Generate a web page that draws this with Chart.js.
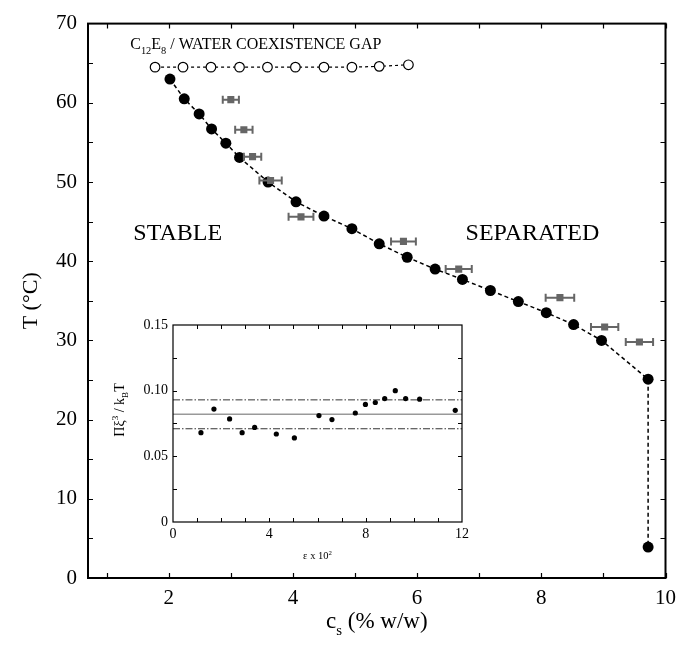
<!DOCTYPE html>
<html>
<head>
<meta charset="UTF-8">
<title>C12E8 / water coexistence gap</title>
<script src="https://cdn.jsdelivr.net/npm/chart.js"></script>
<style>
  body { margin: 0; background: #fff; }
  #wrap { position: relative; width: 684px; height: 655px; }
  #main { position: absolute; left: 0; top: 0; }
  #inset { position: absolute; left: 100px; top: 310px; }
</style>
</head>
<body>
<div id="wrap">
  <canvas id="main" width="684" height="655"></canvas>
  <canvas id="inset" width="380" height="260"></canvas>
</div>
<script>
// cloud point curve (filled circles), c_s in % w/w, T in deg C
const cloudC = [2.02, 2.25, 2.49, 2.69, 2.92, 3.14, 3.60, 4.05, 4.50, 4.95, 5.39, 5.84, 6.29, 6.73, 7.18, 7.63, 8.08, 8.52, 8.97, 9.72, 9.72];
const cloudT = [63.0, 60.5, 58.6, 56.7, 54.9, 53.1, 50.0, 47.5, 45.7, 44.1, 42.2, 40.5, 39.0, 37.7, 36.3, 34.9, 33.5, 32.0, 30.0, 25.1, 3.9];

// coexistence gap (open circles)
const gapC = [1.78, 2.23, 2.68, 3.14, 3.59, 4.04, 4.50, 4.95, 5.39, 5.86];
const gapT = [64.5, 64.5, 64.5, 64.5, 64.5, 64.5, 64.5, 64.5, 64.6, 64.8];

// grey squares with horizontal error bars
const sqC = [3.00, 3.21, 3.35, 3.64, 4.13, 5.78, 6.67, 8.30, 9.02, 9.58];
const sqT = [60.4, 56.6, 53.2, 50.2, 45.6, 42.5, 39.0, 35.4, 31.7, 29.8];
const sqErr = [0.13, 0.14, 0.14, 0.18, 0.20, 0.20, 0.21, 0.23, 0.22, 0.22];

const xTickVals = [2, 4, 6, 8, 10];
const yTickVals = [0, 10, 20, 30, 40, 50, 60, 70];

// inset: Pi xi^3 / kBT versus epsilon x 10^2
const epsX = [1.16, 1.70, 2.35, 2.87, 3.39, 4.29, 5.04, 6.06, 6.60, 7.57, 7.99, 8.40, 8.79, 9.23, 9.66, 10.24, 11.72];
const piVal = [0.068, 0.086, 0.0785, 0.068, 0.072, 0.067, 0.064, 0.081, 0.078, 0.083, 0.0895, 0.091, 0.094, 0.100, 0.094, 0.0935, 0.085];
const meanVal = 0.082;
const bandLow = 0.071;
const bandHigh = 0.093;
const insetXTicks = [0, 4, 8, 12];
const insetYTicks = [0, 0.05, 0.10, 0.15];

const serif = '"Liberation Serif", "DejaVu Serif", serif';
const pts = (xs, ys) => xs.map((v, i) => ({ x: v, y: ys[i] }));

// box round the plot area plus inward tick marks on all four sides
const frameTicks = {
  id: 'frameTicks',
  afterDatasetsDraw(chart, args, opts) {
    const { ctx, chartArea: a, scales: { x, y } } = chart;
    ctx.save();
    ctx.strokeStyle = '#000';
    ctx.lineWidth = opts.width;
    ctx.strokeRect(a.left, a.top, a.right - a.left, a.bottom - a.top);
    ctx.lineWidth = opts.tickWidth;
    ctx.beginPath();
    for (let v = opts.xFrom; v <= opts.xTo + 1e-9; v += opts.xStep) {
      const px = Math.round(x.getPixelForValue(v)) + 0.5;
      ctx.moveTo(px, a.bottom); ctx.lineTo(px, a.bottom - opts.len);
      ctx.moveTo(px, a.top); ctx.lineTo(px, a.top + opts.len);
    }
    for (let v = opts.yFrom; v <= opts.yTo + 1e-9; v += opts.yStep) {
      const py = Math.round(y.getPixelForValue(v)) + 0.5;
      ctx.moveTo(a.left, py); ctx.lineTo(a.left + opts.len, py);
      ctx.moveTo(a.right, py); ctx.lineTo(a.right - opts.len, py);
    }
    ctx.stroke();
    ctx.restore();
  }
};

const errorBars = {
  id: 'errorBars',
  afterDatasetsDraw(chart) {
    const { ctx, scales: { x, y } } = chart;
    ctx.save();
    ctx.strokeStyle = '#666';
    ctx.lineWidth = 2;
    ctx.beginPath();
    sqC.forEach((c, i) => {
      const x0 = x.getPixelForValue(c - sqErr[i]);
      const x1 = x.getPixelForValue(c + sqErr[i]);
      const py = y.getPixelForValue(sqT[i]);
      ctx.moveTo(x0, py); ctx.lineTo(x1, py);
      ctx.moveTo(x0, py - 4); ctx.lineTo(x0, py + 4);
      ctx.moveTo(x1, py - 4); ctx.lineTo(x1, py + 4);
    });
    ctx.stroke();
    ctx.restore();
  }
};

// draw a run of text pieces, each {t, s (scale), dy (shift)}
function drawRuns(ctx, runs, x, y, size) {
  let cx = x;
  runs.forEach(r => {
    const f = size * (r.s || 1);
    ctx.font = f + 'px ' + serif;
    ctx.fillText(r.t, cx, y + (r.dy || 0) * size);
    cx += ctx.measureText(r.t).width;
  });
}
function runsWidth(ctx, runs, size) {
  let w = 0;
  runs.forEach(r => {
    ctx.font = size * (r.s || 1) + 'px ' + serif;
    w += ctx.measureText(r.t).width;
  });
  return w;
}

const mainText = {
  id: 'mainText',
  afterDraw(chart) {
    const { ctx, chartArea: a, scales: { x, y } } = chart;
    ctx.save();
    ctx.fillStyle = '#000';
    ctx.textBaseline = 'alphabetic';
    ctx.textAlign = 'left';

    // y title
    ctx.save();
    ctx.translate(37, (a.top + a.bottom) / 2);
    ctx.rotate(-Math.PI / 2);
    ctx.font = '22px ' + serif;
    ctx.textAlign = 'center';
    ctx.fillText('T (°C)', 0, 0);
    ctx.restore();

    // x title with subscript
    const xr = [{ t: 'c' }, { t: 's', s: 0.65, dy: 0.3 }, { t: ' (% w/w)' }];
    const w = runsWidth(ctx, xr, 23);
    drawRuns(ctx, xr, (a.left + a.right) / 2 - w / 2, 628, 23);

    // region labels
    ctx.font = '24px ' + serif;
    ctx.fillText('STABLE', x.getPixelForValue(1.43), y.getPixelForValue(42.7));
    ctx.fillText('SEPARATED', x.getPixelForValue(6.78), y.getPixelForValue(42.7));

    // gap label
    drawRuns(ctx, [
      { t: 'C' }, { t: '12', s: 0.65, dy: 0.3 }, { t: 'E' }, { t: '8', s: 0.65, dy: 0.3 },
      { t: ' / WATER COEXISTENCE GAP' }
    ], x.getPixelForValue(1.38), y.getPixelForValue(66.8), 16);
    ctx.restore();
  }
};

new Chart(document.getElementById('main'), {
  type: 'scatter',
  data: {
    datasets: [
      {
        data: pts(sqC, sqT),
        pointStyle: 'rect',
        pointRadius: 5,
        backgroundColor: '#666',
        borderColor: '#666',
        borderWidth: 0,
        showLine: false
      },
      {
        data: pts(cloudC, cloudT),
        showLine: true,
        borderColor: '#000',
        borderWidth: 1.5,
        borderDash: [4, 3],
        pointRadius: 5.5,
        pointBackgroundColor: '#000',
        pointBorderColor: '#000',
        pointBorderWidth: 0
      },
      {
        data: pts(gapC, gapT),
        showLine: true,
        borderColor: '#000',
        borderWidth: 1.2,
        borderDash: [3, 3],
        pointRadius: 4.8,
        pointBackgroundColor: '#fff',
        pointBorderColor: '#000',
        pointBorderWidth: 1.2
      }
    ]
  },
  options: {
    responsive: false,
    animation: false,
    devicePixelRatio: 1,
    layout: { padding: { top: 11, right: 14, left: 0, bottom: 0 } },
    plugins: {
      legend: { display: false },
      tooltip: { enabled: false },
      frameTicks: { width: 2, tickWidth: 1.2, len: 5, xFrom: 1, xTo: 10, xStep: 1, yFrom: 5, yTo: 65, yStep: 5 }
    },
    scales: {
      x: {
        type: 'linear',
        min: 0.7,
        max: 10,
        grid: { display: false, drawTicks: false },
        border: { display: false },
        ticks: { color: '#000', font: { family: serif, size: 21 }, padding: 8 },
        afterBuildTicks: s => { s.ticks = xTickVals.map(v => ({ value: v })); },
        afterFit: s => { s.height = 77; }
      },
      y: {
        type: 'linear',
        min: 0,
        max: 70,
        grid: { display: false, drawTicks: false },
        border: { display: false },
        ticks: { color: '#000', font: { family: serif, size: 21 }, padding: 11 },
        afterBuildTicks: s => { s.ticks = yTickVals.map(v => ({ value: v })); },
        afterFit: s => { s.width = 88; }
      }
    }
  },
  plugins: [errorBars, frameTicks, mainText]
});

const insetText = {
  id: 'insetText',
  beforeDatasetsDraw(chart) {
    const { ctx, chartArea: a } = chart;
    ctx.save();
    ctx.fillStyle = '#fff';
    ctx.fillRect(a.left, a.top, a.right - a.left, a.bottom - a.top);
    ctx.restore();
  },
  afterDraw(chart) {
    const { ctx, chartArea: a } = chart;
    ctx.save();
    ctx.fillStyle = '#000';
    ctx.textBaseline = 'alphabetic';
    // rotated y title
    const yr = [{ t: 'Πξ' }, { t: '3', s: 0.65, dy: -0.4 }, { t: ' / k' }, { t: 'B', s: 0.65, dy: 0.3 }, { t: 'T' }];
    const w = runsWidth(ctx, yr, 14);
    ctx.save();
    ctx.translate(24, 100);
    ctx.rotate(-Math.PI / 2);
    drawRuns(ctx, yr, -w / 2, 0, 14);
    ctx.restore();
    // x title
    const xr = [{ t: 'ε x 10' }, { t: '2', s: 0.65, dy: -0.4 }];
    const wx = runsWidth(ctx, xr, 10.5);
    drawRuns(ctx, xr, (a.left + a.right) / 2 - wx / 2, 249, 10.5);
    ctx.restore();
  }
};

new Chart(document.getElementById('inset'), {
  type: 'scatter',
  data: {
    datasets: [
      {
        data: pts(epsX, piVal),
        pointRadius: 2.6,
        backgroundColor: '#000',
        borderWidth: 0,
        showLine: false
      },
      {
        data: [{ x: 0, y: meanVal }, { x: 12, y: meanVal }],
        showLine: true,
        borderColor: '#999',
        borderWidth: 1.5,
        pointRadius: 0
      },
      {
        data: [{ x: 0, y: bandHigh }, { x: 12, y: bandHigh }],
        showLine: true,
        borderColor: '#333',
        borderWidth: 1,
        borderDash: [7, 2, 1.5, 2],
        pointRadius: 0
      },
      {
        data: [{ x: 0, y: bandLow }, { x: 12, y: bandLow }],
        showLine: true,
        borderColor: '#333',
        borderWidth: 1,
        borderDash: [7, 2, 1.5, 2],
        pointRadius: 0
      }
    ]
  },
  options: {
    responsive: false,
    animation: false,
    devicePixelRatio: 1,
    layout: { padding: { top: 15, right: 18, left: 0, bottom: 0 } },
    plugins: {
      legend: { display: false },
      tooltip: { enabled: false },
      frameTicks: { width: 1.2, tickWidth: 1, len: 4, xFrom: 1, xTo: 11, xStep: 1, yFrom: 0.025, yTo: 0.125, yStep: 0.025 }
    },
    scales: {
      x: {
        type: 'linear',
        min: 0,
        max: 12,
        grid: { display: false, drawTicks: false },
        border: { display: false },
        ticks: { color: '#000', font: { family: serif, size: 14 }, padding: 4 },
        afterBuildTicks: s => { s.ticks = insetXTicks.map(v => ({ value: v })); },
        afterFit: s => { s.height = 48; }
      },
      y: {
        type: 'linear',
        min: 0,
        max: 0.15,
        grid: { display: false, drawTicks: false },
        border: { display: false },
        ticks: {
          color: '#000', font: { family: serif, size: 14 }, padding: 5,
          callback: v => (v === 0 ? '0' : v.toFixed(2))
        },
        afterBuildTicks: s => { s.ticks = insetYTicks.map(v => ({ value: v })); },
        afterFit: s => { s.width = 73; }
      }
    }
  },
  plugins: [insetText, frameTicks]
});
</script>
</body>
</html>
